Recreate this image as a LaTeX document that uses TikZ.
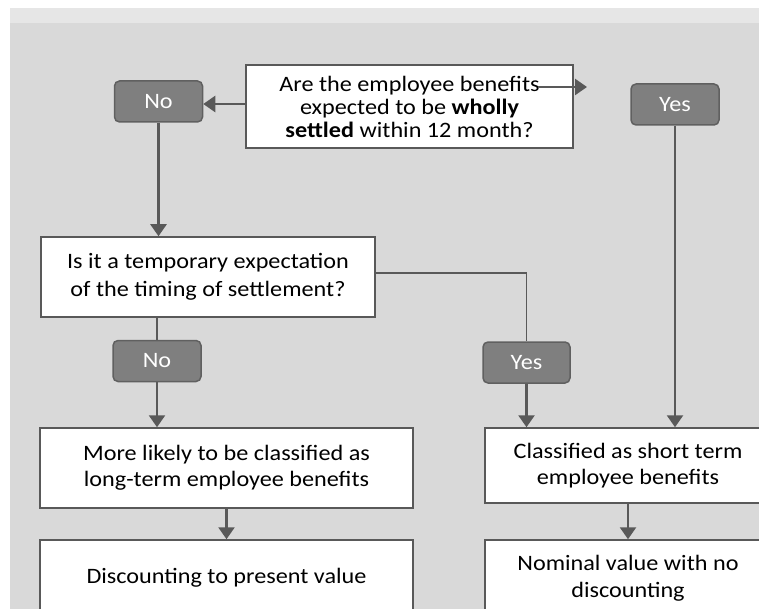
\documentclass[tikz,border=0pt]{standalone}
\usepackage{fontspec}
\setmainfont[FakeStretch=1.1]{Carlito}
\usetikzlibrary{positioning,calc,arrows.meta}

\definecolor{bandgray}{HTML}{E6E6E6}
\definecolor{backgray}{HTML}{D9D9D9}
\definecolor{ansfill}{HTML}{7F7F7F}
\definecolor{ansline}{HTML}{606060}
\definecolor{linegray}{HTML}{595959}

\tikzset{
  qbox/.style={draw=linegray, line width=1.5pt, fill=white, align=center, inner sep=0pt},
  ansbox/.style={draw=ansline, line width=1.5pt, fill=ansfill, rounded corners=5pt,
    text=white, minimum width=88pt, minimum height=41pt, inner sep=0pt},
  flow/.style={draw=linegray, line width=2.5pt, -{Triangle[length=12pt,width=16pt]}},
  link/.style={draw=linegray, line width=2.5pt},
}

\begin{document}
\begin{tikzpicture}[x=1pt, y=-1pt, font=\fontsize{22}{26}\selectfont]
    % Background
    \useasboundingbox (0,0) rectangle (759,609);
    \clip (0,0) rectangle (759,609);
    \fill [bandgray] (10,8) rectangle (759,23);
    \fill [backgray] (10,23) rectangle (759,609);

    % First question
    \node [qbox, minimum width=327pt, minimum height=83pt,
           font=\fontsize{22}{23}\selectfont] (wholly) at (409.5,106.5)
        {Are the employee benefits\\expected to be \textbf{wholly}\\\textbf{settled} within 12 month?};
    \node [ansbox] (no1) at (158.5,101.5) {No};
    \node [ansbox] (yes1) at (675,104.5) {Yes};

    % Second question
    \node [qbox, minimum width=334pt, minimum height=80pt,
           font=\fontsize{22}{28}\selectfont] (timing) at (208,277)
        {Is it a temporary expectation\\of the timing of settlement?};
    \node [ansbox] (no2) at (157,361) {No};
    \node [ansbox, minimum width=87pt] (yes2) at (526.5,362.5) {Yes};

    % Outcomes
    \node [qbox, minimum width=373pt, minimum height=80pt] (longterm) at (226.5,468)
        {More likely to be classified as\\long-term employee benefits};
    \node [qbox, minimum width=286pt, minimum height=75pt] (shortterm) at (628,465.5)
        {Classified as short term\\employee benefits};
    \node [qbox, minimum width=373pt, minimum height=76pt] (discount) at (226.5,578)
        {Discounting to present value};
    \node [qbox, minimum width=286pt, minimum height=76pt,
           font=\fontsize{22}{27}\selectfont] (nominal) at (628,578)
        {Nominal value with no\\discounting};

    % Connectors
    \coordinate (stub) at (538,87);
    \coordinate (stubtip) at (587,87);
    \draw [flow] ([yshift=2.5pt]wholly.west) -- ([yshift=-2.5pt]no1.east);
    \draw [flow] (stub) -- (stubtip);
    \draw [flow] (no1.south) -- (no1.south |- timing.north);
    \draw [flow] (yes1.south) -- (yes1.south |- shortterm.north);
    \draw [link] (no2.north |- timing.south) -- (no2.north);
    \draw [flow] (no2.south) -- (no2.south |- longterm.north);
    \draw [link, line width=1.8pt] ([yshift=4pt]timing.east) -| (yes2.north);
    \draw [flow] (yes2.south) -- (yes2.south |- shortterm.north);
    \draw [flow] (longterm.south) -- (discount.north);
    \draw [flow] (shortterm.south) -- (nominal.north);
\end{tikzpicture}
\end{document}
